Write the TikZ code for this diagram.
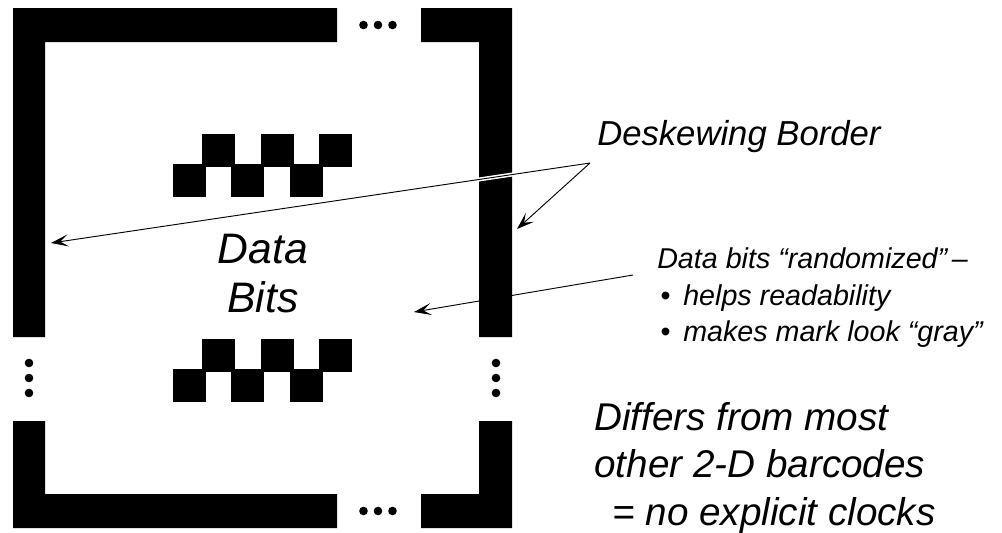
\documentclass[tikz,border=0pt]{standalone}
\usepackage{fontspec}
\setmainfont{Liberation Sans}
\usetikzlibrary{arrows.meta}

\tikzset{
  bar/.style={fill=black},
  sq/.style={fill=black},
  dot/.style={fill=black},
  lbl/.style={font=\itshape, inner sep=0pt, anchor=base west},
  note/.style={lbl, font=\itshape\fontsize{21.5}{27}\selectfont},
  big/.style={lbl, font=\itshape\fontsize{29}{35}\selectfont},
  ptr/.style={draw=black, line width=0.7pt,
    -{Stealth[length=13pt, width=9pt, inset=6pt]}},
  halo/.style={preaction={draw=white, line width=3pt, -}}
}

\begin{document}
\begin{tikzpicture}[x=0.75pt, y=-0.75pt]
\useasboundingbox (0,0) rectangle (1002,532);

% corner brackets of the deskewing border
\fill[bar] (13,8) -- (337,8) -- (337,42) -- (45,42) -- (45,337) -- (13,337) -- cycle;
\fill[bar] (421,8) -- (512,8) -- (512,337) -- (479,337) -- (479,42) -- (421,42) -- cycle;
\fill[bar] (13,421) -- (45,421) -- (45,494) -- (337,494) -- (337,528) -- (13,528) -- cycle;
\fill[bar] (479,421) -- (512,421) -- (512,528) -- (421,528) -- (421,494) -- (479,494) -- cycle;

% ellipses in the gaps
\foreach \x in {363.5,378,392.5} {
  \fill[dot] (\x,25) circle (4.3);
  \fill[dot] (\x,511) circle (4.3);
}
\foreach \y in {363,378,393} {
  \fill[dot] (29,\y) circle (4.3);
  \fill[dot] (496,\y) circle (4.3);
}

% data bit patterns
\foreach \yo in {0,205} {
  \foreach \x in {202,261,319} \fill[sq] (\x,134+\yo) rectangle ++(33,33);
  \foreach \x in {173,231,290} \fill[sq] (\x,164+\yo) rectangle ++(33,33);
}

% labels
\node[lbl, anchor=base, font=\itshape\fontsize{32}{37}\selectfont] (data) at (263,263) {Data};
\node[lbl, anchor=base, font=\itshape\fontsize{32}{37}\selectfont] (bits) at (263,312) {Bits};

\node[lbl, font=\itshape\fontsize{26}{30}\selectfont] (desk) at (597,145) {Deskewing Border};

\node[note] (rand) at (657,268) {Data bits “randomized”\,–};
\node[note] (b1) at (660,305) {•};
\node[note] (help) at (683,305) {helps readability};
\node[note] (b2) at (660,341) {•};
\node[note] (gray) at (683,341) {makes mark look “gray”};

\node[big] (diff1) at (594,430) {Differs from most};
\node[big] (diff2) at (594,477) {other 2-D barcodes};
\node[big] (diff3) at (612,525) {= no explicit clocks};

% pointer ends
\coordinate (deskfoot) at (590,163);
\coordinate (leftbar) at (51,243);
\coordinate (rightbar) at (517,229);
\coordinate (randfoot) at (633,275);
\coordinate (bitsarea) at (414,312);

\draw[ptr, halo] (deskfoot) -- (leftbar);
\draw[ptr] (deskfoot) -- (rightbar);
\draw[ptr] (randfoot) -- (bitsarea);
\end{tikzpicture}
\end{document}
